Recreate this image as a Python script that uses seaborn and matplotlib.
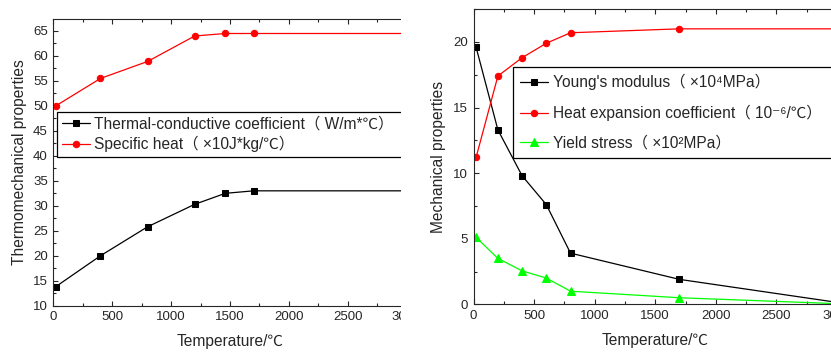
import matplotlib
matplotlib.use('Agg')
import matplotlib.pyplot as plt
from matplotlib.patches import Rectangle
from matplotlib.ticker import MultipleLocator
import seaborn as sns

# left panel: thermal properties
temp_left = [20, 400, 800, 1200, 1460, 1700, 3000]
thermal_cond = [13.8, 20.0, 25.8, 30.3, 32.5, 33.0, 33.0]
specific_heat = [50.0, 55.5, 58.9, 64.0, 64.5, 64.5, 64.5]

# right panel: mechanical properties
temp_right = [20, 200, 400, 600, 800, 1700, 3000]
youngs = [19.6, 13.3, 9.8, 7.6, 3.9, 1.9, 0.15]
expansion = [11.2, 17.4, 18.8, 19.9, 20.7, 21.0, 21.0]
yield_stress = [5.1, 3.5, 2.55, 2.0, 1.0, 0.5, 0.05]

label_cond = 'Thermal-conductive coefficient（ W/m*℃）'
label_heat = 'Specific heat（ ×10J*kg/℃）'
label_young = "Young's modulus（ ×10⁴MPa）"
label_exp = 'Heat expansion coefficient（ 10⁻⁶/℃）'
label_yield = 'Yield stress（ ×10²MPa）'

sns.set_style('ticks')
plt.rcParams['font.family'] = ['Liberation Sans', 'Noto Sans CJK SC', 'DejaVu Sans']
plt.rcParams['axes.linewidth'] = 0.8

fig = plt.figure(figsize=(8.31, 3.52), dpi=100)
ax1 = fig.add_axes([0.0642, 0.1315, 0.4252, 0.8145])
ax2 = fig.add_axes([0.570, 0.1355, 0.437, 0.8385])

line_kw = dict(linewidth=0.9, markersize=4.6)

sns.lineplot(x=temp_left, y=thermal_cond, ax=ax1, color='black', marker='s',
             markeredgecolor='black', label=label_cond, **line_kw)
sns.lineplot(x=temp_left, y=specific_heat, ax=ax1, color='#ff0000', marker='o',
             markeredgecolor='#ff0000', label=label_heat, **line_kw)

sns.lineplot(x=temp_right, y=youngs, ax=ax2, color='black', marker='s',
             markeredgecolor='black', label=label_young, **line_kw)
sns.lineplot(x=temp_right, y=expansion, ax=ax2, color='#ff0000', marker='o',
             markeredgecolor='#ff0000', label=label_exp, **line_kw)
sns.lineplot(x=temp_right, y=yield_stress, ax=ax2, color='#00ff00', marker='^',
             markeredgecolor='#00ff00', label=label_yield, markersize=5.5, linewidth=0.9)

ax1.set_xlim(0, 3000)
ax1.set_ylim(10, 67.4)
ax1.yaxis.set_major_locator(MultipleLocator(5))
ax1.yaxis.set_minor_locator(MultipleLocator(2.5))

ax2.set_xlim(0, 3000)
ax2.set_ylim(0, 22.5)
ax2.yaxis.set_major_locator(MultipleLocator(5))
ax2.yaxis.set_minor_locator(MultipleLocator(2.5))

for ax in (ax1, ax2):
    ax.xaxis.set_major_locator(MultipleLocator(500))
    ax.xaxis.set_minor_locator(MultipleLocator(250))
    ax.tick_params(which='both', direction='in', top=True, right=False, width=0.8)
    ax.tick_params(which='major', length=3.5, labelsize=9.5, pad=4)
    ax.tick_params(which='minor', length=2)
    ax.spines['right'].set_visible(False)
    ax.set_xlabel('Temperature/℃', fontsize=11.2, labelpad=8)

ax1.set_ylabel('Thermomechanical properties', fontsize=11.2, labelpad=4)
ax2.set_ylabel('Mechanical properties', fontsize=11.2, labelpad=5)

leg1 = ax1.legend(loc='upper left', bbox_to_anchor=(0.0105, 0.526, 0.99, 0.15),
                  bbox_transform=ax1.transAxes, mode='expand', borderaxespad=0,
                  fontsize=11.2, frameon=True, fancybox=False, framealpha=1,
                  edgecolor='black', handlelength=1.8, handletextpad=0.3,
                  labelspacing=0.28, borderpad=0.3, numpoints=1)
leg1.get_frame().set_linewidth(0.9)

leg2 = ax2.legend(loc='upper left', bbox_to_anchor=(0.108, 0.505, 0.95, 0.3),
                  bbox_transform=ax2.transAxes, mode='expand', borderaxespad=0,
                  fontsize=11.2, frameon=True, fancybox=False, framealpha=1,
                  edgecolor='black', handlelength=1.8, handletextpad=0.3,
                  labelspacing=0.95, borderpad=0.45, numpoints=1)
leg2.get_frame().set_linewidth(0.9)

# the source image is cropped between the two panels
fig.add_artist(Rectangle((401 / 831, 0), 24 / 831, 1, transform=fig.transFigure,
                         facecolor='white', edgecolor='none', zorder=10))

fig.savefig('out.png', dpi=100)
